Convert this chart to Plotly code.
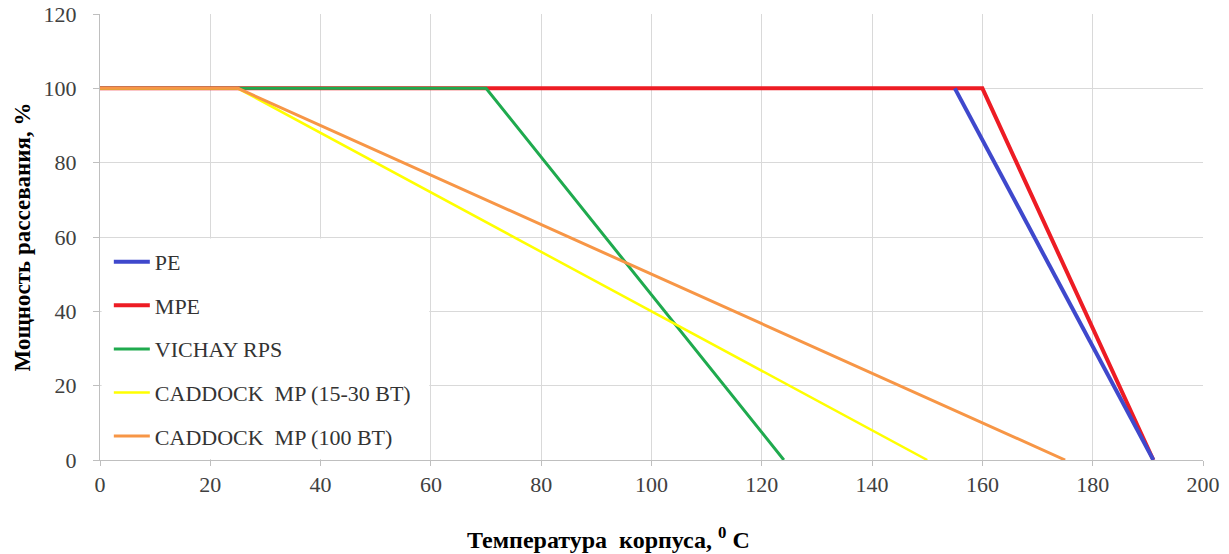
import plotly.graph_objects as go

# Data
pe_x = [155, 191]
pe_y = [100, 0]
mpe_x = [0, 160, 191]
mpe_y = [100, 100, 0]
vichay_x = [0, 70, 124]
vichay_y = [100, 100, 0]
cad1530_x = [0, 25, 150]
cad1530_y = [100, 100, 0]
cad100_x = [0, 25, 175]
cad100_y = [100, 100, 0]

names = ["PE", "MPE", "VICHAY RPS", "CADDOCK  MP (15-30 BT)", "CADDOCK  MP (100 BT)"]
x_ticks = list(range(0, 201, 20))
y_ticks = list(range(0, 121, 20))

fig = go.Figure()
serif = "Liberation Serif"

traces = [
    (mpe_x, mpe_y, names[1], "#ED1C24", 4, 2),
    (pe_x, pe_y, names[0], "#3F48CC", 4, 1),
    (vichay_x, vichay_y, names[2], "#1FAA4E", 3, 3),
    (cad1530_x, cad1530_y, names[3], "#FFFF00", 2.5, 4),
    (cad100_x, cad100_y, names[4], "#F79646", 3, 5),
]
for x, y, n, c, w, rank in traces:
    fig.add_trace(go.Scatter(x=x, y=y, mode="lines", name=n,
                             line=dict(color=c, width=w),
                             legendrank=rank, legendgroup=n))

# white panel behind legend (covers gridlines)
fig.add_shape(type="rect", xref="x", yref="y", x0=0.3, x1=59.7, y0=0.3, y1=59.6,
              fillcolor="white", line=dict(width=0), layer="between")

fig.update_layout(
    width=1229, height=554,
    margin=dict(l=100, r=26, t=14, b=94, autoexpand=False),
    plot_bgcolor="white", paper_bgcolor="white",
    font=dict(family=serif, size=22, color="#404040"),
    showlegend=True,
    legend=dict(x=0.008, y=0.007, xanchor="left", yanchor="bottom",
                bgcolor="rgba(0,0,0,0)", borderwidth=0,
                font=dict(family=serif, size=22, color="#333333"),
                tracegroupgap=12, traceorder="grouped",
                itemwidth=36),
)
fig.update_xaxes(range=[0, 200], tickvals=x_ticks, showgrid=True,
                 gridcolor="#D9D9D9", gridwidth=1, automargin=False,
                 showline=True, linecolor="#BFBFBF", linewidth=1,
                 ticks="outside", ticklen=5, tickcolor="#BFBFBF",
                 zeroline=False, tickfont=dict(size=22))
fig.update_yaxes(range=[0, 120], tickvals=y_ticks, showgrid=True,
                 gridcolor="#D9D9D9", gridwidth=1, automargin=False,
                 showline=True, linecolor="#BFBFBF", linewidth=1,
                 ticks="outside", ticklen=6, tickcolor="#BFBFBF",
                 ticklabelstandoff=12,
                 zeroline=False, tickfont=dict(size=22),
                 title=dict(text="<b>Мощность рассевания, %</b>",
                            font=dict(family=serif, size=23, color="#000000"),
                            standoff=6))
fig.add_annotation(text="<b>Температура  корпуса, <sup>0</sup> С</b>",
                   xref="paper", yref="paper", x=0.461, y=-0.175,
                   xanchor="center", yanchor="middle", showarrow=False,
                   font=dict(family=serif, size=24, color="#000000"))

fig.write_html("out.html", config={"displayModeBar": False},
               post_script="document.body.style.margin='0px';")
